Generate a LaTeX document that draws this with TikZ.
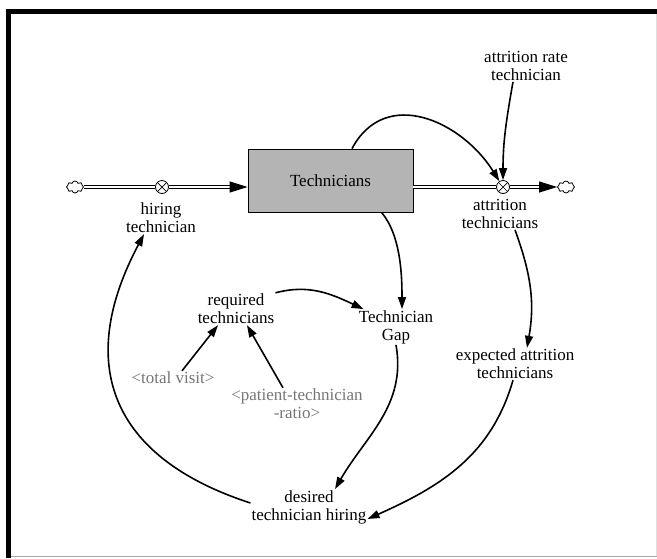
\documentclass[tikz,border=0pt]{standalone}
\usepackage{fontspec}
\setmainfont{Liberation Serif}
\newfontfamily\varfont{Liberation Serif}
\usetikzlibrary{arrows.meta,shapes.symbols,calc}
\definecolor{stockgray}{RGB}{180,180,180}
\definecolor{ghosttext}{RGB}{118,118,118}
\tikzstyle{lbl}=[align=center, inner sep=1pt, font=\varfont\fontsize{17}{18}\selectfont]
\tikzstyle{ghost}=[lbl, text=ghosttext]
\tikzstyle{stockbox}=[draw, fill=stockgray, minimum width=165pt, minimum height=63pt,
                      line width=0.8pt, font=\varfont\fontsize{17}{18}\selectfont]
\tikzstyle{valve}=[circle, draw, fill=white, minimum size=13pt, inner sep=0pt, line width=0.8pt,
                   path picture={\draw[line width=0.7pt]
                     (path picture bounding box.north west) -- (path picture bounding box.south east)
                     (path picture bounding box.north east) -- (path picture bounding box.south west);}]
\tikzstyle{cloudy}=[cloud, draw, cloud puffs=8, aspect=1.4, minimum width=17pt,
                    minimum height=12pt, inner sep=0pt, line width=0.8pt]
\tikzstyle{pipe}=[double, double distance=2.4pt, line width=0.9pt]
\tikzstyle{pipetip}=[-{Triangle[length=18pt,width=11pt]}, line width=0.9pt]
\tikzstyle{link}=[-{Triangle[length=12pt,width=8pt]}, line width=1.6pt]
\begin{document}
\begin{tikzpicture}[x=1pt, y=1pt]
      \useasboundingbox (0,0) rectangle (657,-558);
      % Frame
      \fill (6,-9) rectangle (657,-14);
      \fill (6,-9) rectangle (11,-558);
      \draw[gray!70, line width=1.2pt] (11,-556.5) -- (657,-556.5);
      \draw[gray!25, line width=0.8pt] (656.5,-14) -- (656.5,-556);
      %
      % Stock, valves and clouds
      \node[stockbox] (stock) at (330.5,-180.5) {Technicians};
      \node[valve] (hiring) at (162,-187) {};
      \node[valve] (attrition) at (503,-187) {};
      \node[cloudy] (source) at (75,-187) {};
      \node[cloudy] (sink) at (566,-187) {};
      \coordinate (inEnd) at (stock.west |- hiring);
      %
      % Pipes
      \draw[pipe] (source) -- (hiring);
      \draw[pipe, shorten >=17pt] (hiring) -- (inEnd);
      \draw[pipetip] ([xshift=-18pt]inEnd) -- (inEnd);
      \draw[pipe] (stock.east |- attrition) -- (attrition);
      \draw[pipe, shorten >=17pt] (attrition) -- (sink);
      \draw[pipetip] ([xshift=-18pt]sink.west) -- (sink.west);
      %
      % Variables
      \foreach \place/\name/\txt in {{(161,-218)/hiringlbl/hiring\\technician},
          {(500,-214)/attritionlbl/attrition\\technicians},
          {(526,-66)/rate/attrition rate\\technician},
          {(236,-309)/required/required\\technicians},
          {(396,-327)/gap/Technician\\Gap},
          {(515,-364)/expected/expected attrition\\technicians},
          {(309,-507)/desired/desired\\technician hiring}}
        \node[lbl] (\name) at \place {\txt};
      \foreach \place/\name/\txt in {{(173,-378)/visit/<total visit>},
          {(297,-404)/ratio/<patient-technician\\-ratio>}}
        \node[ghost] (\name) at \place {\txt};
      %
      % Links
      \draw[link] (stock.56) to[out=62,in=122,looseness=1.2] (attrition);
      \draw[link] ([xshift=-13pt]rate.south) to[out=-100,in=90] (attrition);
      \draw[link] (stock.-32.5) to[out=-50,in=90,looseness=0.8] ([xshift=6pt]gap.north);
      \draw[link] (required.north east) to[out=15,in=155] ([xshift=6pt]gap.north west);
      \draw[link] ([xshift=9pt]visit.north) -- ([xshift=-18pt]required.south);
      \draw[link] ([xshift=-14pt]ratio.north) -- ([xshift=11pt]required.south);
      \draw[link] (gap.south) to[out=-80,in=60] ([xshift=26pt]desired.north);
      \draw[link] ([xshift=15pt]attritionlbl.south) to[out=-70,in=80] ([xshift=12pt]expected.north);
      \draw[link] ([xshift=-2pt]expected.south) to[out=-106,in=24] ([yshift=-12pt]desired.east);
      \draw[link] ([yshift=4pt]desired.west) to[out=162,in=-118,looseness=1.3] ([xshift=-17pt]hiringlbl.south);
    \end{tikzpicture}
\end{document}
